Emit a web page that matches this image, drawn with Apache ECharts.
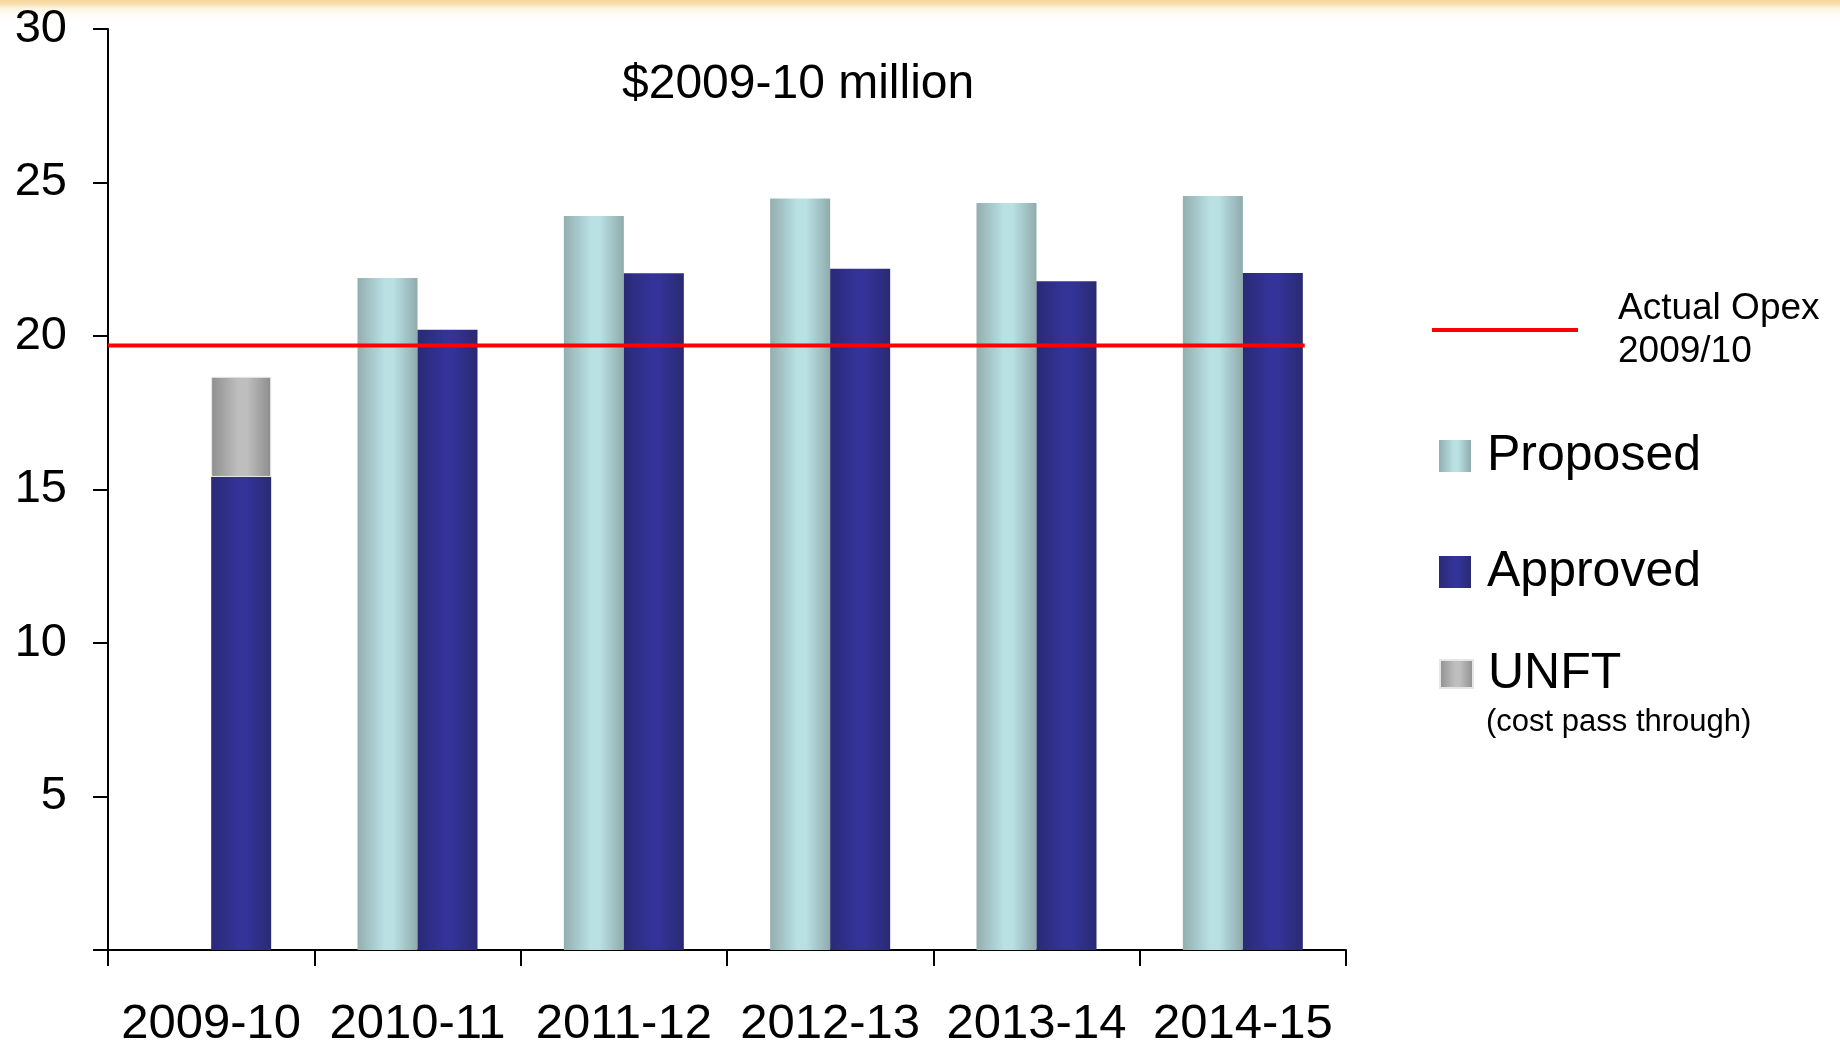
<!DOCTYPE html>
<html>
<head>
<meta charset="utf-8">
<script src="https://cdn.jsdelivr.net/npm/echarts@6/dist/echarts.min.js"></script>
<style>
  html, body { margin: 0; padding: 0; background: #fff; }
  #chart { width: 1840px; height: 1042px; }
</style>
</head>
<body>
<div id="chart"></div>
<script>
// ---- data ----
const categories = ['2009-10', '2010-11', '2011-12', '2012-13', '2013-14', '2014-15'];
const proposed = [null, 21.89, 23.91, 24.48, 24.33, 24.56];
const approved = [15.41, 20.2, 22.04, 22.19, 21.78, 22.05];
const unft = [3.26, null, null, null, null, null];
const actualOpex = 19.69;
const actualOpexSpan = [0, 5.8]; // from y-axis to right edge of last bar, in category units
const yTickValues = [0, 5, 10, 15, 20, 25, 30];

const FONT = '"Liberation Sans", Arial, Helvetica, sans-serif';

function hGrad(edgeL, mid, edgeR) {
  return new echarts.graphic.LinearGradient(0, 0, 1, 0, [
    { offset: 0, color: edgeL },
    { offset: 0.45, color: mid },
    { offset: 0.6, color: mid },
    { offset: 1, color: edgeR }
  ]);
}

const chart = echarts.init(document.getElementById('chart'), null, { renderer: 'canvas' });

const option = {
  animation: false,
  backgroundColor: '#ffffff',
  textStyle: { fontFamily: FONT },
  title: {
    text: '$2009-10 million',
    left: 622,
    top: 61,
    padding: 0,
    textStyle: { fontFamily: FONT, fontSize: 48, fontWeight: 'normal', color: '#000' }
  },
  graphic: [
    {
      type: 'rect',
      left: 0, top: 0,
      shape: { width: 1840, height: 24 },
      style: {
        fill: new echarts.graphic.LinearGradient(0, 0, 0, 1, [
          { offset: 0, color: '#f6d597' },
          { offset: 0.2, color: '#fae3b8' },
          { offset: 0.35, color: '#fdf5e2' },
          { offset: 1, color: 'rgba(255,255,255,0)' }
        ])
      },
      silent: true,
      z: -1
    },
    {
      type: 'text',
      left: 1486,
      top: 707,
      style: { text: '(cost pass through)', font: '31px ' + FONT, fill: '#000' }
    }
  ],
  legend: [
    {
      data: [{ name: 'Actual Opex\n2009/10', icon: 'rect' }],
      left: 1432, top: 287, padding: 0,
      orient: 'vertical',
      itemWidth: 146, itemHeight: 4,
      selectedMode: false,
      textStyle: { fontFamily: FONT, fontSize: 37, lineHeight: 43, color: '#000', padding: [0, 0, 0, 35] }
    },
    {
      data: [{ name: 'Proposed', icon: 'rect' }],
      left: 1439, top: 428, padding: 0,
      itemWidth: 32, itemHeight: 32,
      selectedMode: false,
      textStyle: { fontFamily: FONT, fontSize: 50, lineHeight: 56, color: '#000', padding: [0, 0, 0, 11] }
    },
    {
      data: [{ name: 'Approved', icon: 'rect' }],
      left: 1439, top: 544, padding: 0,
      itemWidth: 32, itemHeight: 32,
      selectedMode: false,
      textStyle: { fontFamily: FONT, fontSize: 50, lineHeight: 56, color: '#000', padding: [0, 0, 0, 11] }
    },
    {
      data: [{ name: 'UNFT', icon: 'rect' }],
      left: 1439, top: 646, padding: 0,
      itemWidth: 33, itemHeight: 28,
      selectedMode: false,
      textStyle: { fontFamily: FONT, fontSize: 50, lineHeight: 56, color: '#000', padding: [0, 0, 0, 10] }
    }
  ],
  grid: { left: 108, right: 494, top: 29, bottom: 92, containLabel: false, outerBoundsMode: 'none' },
  xAxis: [
    {
      type: 'category',
      data: categories,
      boundaryGap: true,
      axisLine: { lineStyle: { color: '#000', width: 2 } },
      axisTick: { show: true, length: 16, lineStyle: { color: '#000', width: 2 } },
      axisLabel: { fontFamily: FONT, fontSize: 49, color: '#000', margin: 50, lineHeight: 49, interval: 0 },
      splitLine: { show: false }
    },
    {
      type: 'value',
      min: 0, max: 6,
      show: false
    }
  ],
  yAxis: {
    type: 'value',
    min: 0, max: 30, interval: 5,
    axisLine: { show: true, lineStyle: { color: '#000', width: 2 } },
    axisTick: { show: true, length: 15, lineStyle: { color: '#000', width: 2 } },
    axisLabel: {
      fontFamily: FONT, fontSize: 47, color: '#000', margin: 41,
      formatter: function (v) { return (v === yTickValues[0]) ? '' : String(v); }
    },
    splitLine: { show: false }
  },
  series: [
    {
      name: 'Proposed',
      type: 'bar',
      data: proposed,
      barWidth: 60,
      barGap: '0%',
      itemStyle: { color: hGrad('#93aeaf', '#b9e0e3', '#8fabac') }
    },
    {
      name: 'Approved',
      type: 'bar',
      stack: 'a',
      data: approved,
      barWidth: 60,
      barGap: '0%',
      itemStyle: { color: hGrad('#2a2a76', '#333399', '#2a2a72') }
    },
    {
      name: 'UNFT',
      type: 'bar',
      stack: 'a',
      data: unft,
      barWidth: 60,
      barGap: '0%',
      itemStyle: { color: hGrad('#8e8e8e', '#bebebe', '#8c8c8c'), borderColor: '#e6e6e6', borderWidth: 1 }
    },
    {
      name: 'Actual Opex\n2009/10',
      type: 'line',
      xAxisIndex: 1,
      data: [[actualOpexSpan[0], actualOpex], [actualOpexSpan[1], actualOpex]],
      symbol: 'none',
      color: '#ff0000',
      itemStyle: { color: '#ff0000' },
      lineStyle: { color: '#ff0000', width: 4 },
      z: 5
    }
  ]
};

chart.setOption(option);
</script>
</body>
</html>
